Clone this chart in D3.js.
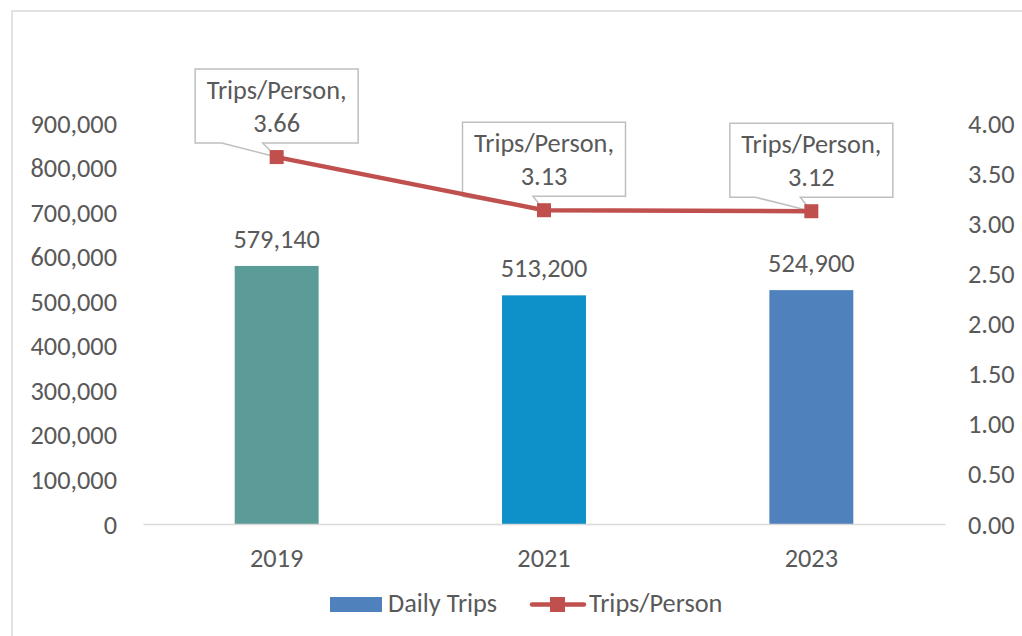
<!DOCTYPE html>
<html>
<head>
<meta charset="utf-8">
<script src="https://cdn.jsdelivr.net/npm/d3@7"></script>
<style>
  html, body { margin: 0; padding: 0; background: #fff; }
  svg text { font-family: Carlito, "Open Sans", "Liberation Sans", sans-serif; fill: #595959; }
</style>
</head>
<body>
<div id="vis"></div>
<script>
// Data
const years = ['2019', '2021', '2023'];
const dailyTrips = [579140, 513200, 524900];
const tripsPerPerson = [3.66, 3.13, 3.12];
const leftTicks = [0, 100000, 200000, 300000, 400000, 500000, 600000, 700000, 800000, 900000];
const rightTicks = [0, 0.5, 1, 1.5, 2, 2.5, 3, 3.5, 4];
const barColors = ['#5B9B98', '#0E90C8', '#4F81BD'];
const lineColor = '#C0504D';

// Layout
const W = 1022, H = 636;
const plot = { left: 143, right: 945, top: 123, bottom: 524 };
const fontSize = 26.3;
// callout pointer base, relative to the point x (left, right)
const pointerBase = [[-55, -14], [-82, -11], [-56, -11]];

const svg = d3.select('#vis')
    .append('svg')
    .attr('width', W)
    .attr('height', H);

// Chart frame (right/bottom edges are off the picture)
svg.append('rect')
    .attr('x', 12).attr('y', 11)
    .attr('width', W + 20).attr('height', H + 20)
    .attr('fill', '#fff')
    .attr('stroke', '#d9d9d9')
    .attr('stroke-width', 1.5);

const xScale = d3.scaleBand()
    .domain(years)
    .range([plot.left, plot.right])
    .paddingInner(0.686)
    .paddingOuter(0.343);

const yLeft = d3.scaleLinear().domain([0, 900000]).range([plot.bottom, plot.top]);
const yRight = d3.scaleLinear().domain([0, 4]).range([plot.bottom, plot.top]);

// Left axis labels
const yAxisL = d3.axisLeft(yLeft).tickValues(leftTicks).tickFormat(d3.format(',')).tickSize(0).tickPadding(0);
const gL = svg.append('g').attr('transform', 'translate(117,0)').call(yAxisL);
gL.select('.domain').remove();
gL.selectAll('text').attr('font-size', fontSize).attr('dy', null).attr('dominant-baseline', 'central').attr('fill', null);

// Right axis labels
const yAxisR = d3.axisRight(yRight).tickValues(rightTicks).tickFormat(d3.format('.2f')).tickSize(0).tickPadding(0);
const gR = svg.append('g').attr('transform', 'translate(968,0)').call(yAxisR);
gR.select('.domain').remove();
gR.selectAll('text').attr('font-size', fontSize).attr('dy', null).attr('dominant-baseline', 'central').attr('fill', null);

// Bars
svg.selectAll('.bar')
    .data(years)
    .join('rect')
    .attr('class', 'bar')
    .attr('x', d => xScale(d))
    .attr('y', (d, i) => yLeft(dailyTrips[i]))
    .attr('width', xScale.bandwidth())
    .attr('height', (d, i) => yLeft(0) - yLeft(dailyTrips[i]))
    .attr('fill', (d, i) => barColors[i]);

// Category axis
const xAxis = d3.axisBottom(xScale).tickSize(0).tickPadding(0);
const gX = svg.append('g').attr('transform', `translate(0,${plot.bottom})`).call(xAxis);
gX.select('.domain').attr('stroke', '#d9d9d9').attr('stroke-width', 1.5);
gX.selectAll('text').attr('font-size', fontSize).attr('dy', null).attr('y', 43).attr('fill', null);

// Bar value labels
svg.selectAll('.bar-label')
    .data(years)
    .join('text')
    .attr('class', 'bar-label')
    .attr('x', d => xScale(d) + xScale.bandwidth() / 2)
    .attr('y', (d, i) => yLeft(dailyTrips[i]) - 18)
    .attr('text-anchor', 'middle')
    .attr('font-size', fontSize)
    .text((d, i) => d3.format(',')(dailyTrips[i]));

// Line
const cx = d => xScale(d) + xScale.bandwidth() / 2;
const line = d3.line()
    .x((d, i) => cx(years[i]))
    .y(d => yRight(d));

// Callouts (drawn under the line)
const boxW = 163, boxH = 74, gap = 14;
years.forEach((yr, i) => {
    const px = cx(yr), py = yRight(tripsPerPerson[i]);
    const bx = px - boxW / 2, by = py - gap - boxH;
    const [b0, b1] = pointerBase[i];
    const g = svg.append('g').attr('class', 'callout');
    g.append('path')
        .attr('d', `M${bx},${by}H${bx + boxW}V${by + boxH}H${px + b1}L${px},${py}L${px + b0},${by + boxH}H${bx}Z`)
        .attr('fill', '#fff')
        .attr('stroke', '#bfbfbf')
        .attr('stroke-width', 1.5);
    g.append('text')
        .attr('x', px).attr('y', by + 30)
        .attr('text-anchor', 'middle')
        .attr('font-size', fontSize)
        .text('Trips/Person,');
    g.append('text')
        .attr('x', px).attr('y', by + 63)
        .attr('text-anchor', 'middle')
        .attr('font-size', fontSize)
        .text(d3.format('.2f')(tripsPerPerson[i]));
});

svg.append('path')
    .datum(tripsPerPerson)
    .attr('d', line)
    .attr('fill', 'none')
    .attr('stroke', lineColor)
    .attr('stroke-width', 4.5);

const mk = 14;
svg.selectAll('.marker')
    .data(tripsPerPerson)
    .join('rect')
    .attr('class', 'marker')
    .attr('x', (d, i) => cx(years[i]) - mk / 2)
    .attr('y', d => yRight(d) - mk / 2)
    .attr('width', mk).attr('height', mk)
    .attr('fill', lineColor);

// Legend
const legend = svg.append('g').attr('class', 'legend');
legend.append('rect')
    .attr('x', 330).attr('y', 597).attr('width', 52).attr('height', 15)
    .attr('fill', '#4F81BD');
legend.append('text')
    .attr('x', 388).attr('y', 612)
    .attr('font-size', fontSize)
    .text('Daily Trips');
legend.append('line')
    .attr('x1', 532).attr('x2', 584).attr('y1', 604.5).attr('y2', 604.5)
    .attr('stroke', lineColor).attr('stroke-width', 4.5).attr('stroke-linecap', 'round');
legend.append('rect')
    .attr('x', 550).attr('y', 597).attr('width', 15).attr('height', 15)
    .attr('fill', lineColor);
legend.append('text')
    .attr('x', 589).attr('y', 612)
    .attr('font-size', fontSize)
    .text('Trips/Person');
</script>
</body>
</html>
